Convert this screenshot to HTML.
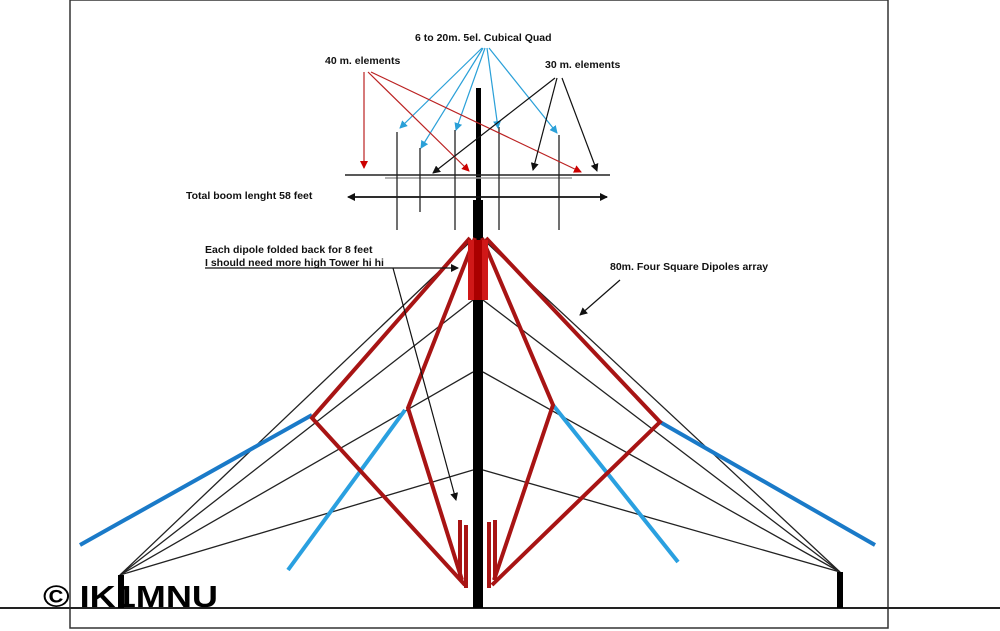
<!DOCTYPE html>
<html><head><style>
body{margin:0;background:#fff;}
svg{display:block;font-family:"Liberation Sans",sans-serif;}
</style></head><body>
<svg width="1000" height="631" viewBox="0 0 1000 631">
<defs>
<marker id="ab" markerWidth="8" markerHeight="8" refX="7" refY="4" orient="auto" markerUnits="userSpaceOnUse"><path d="M0,0 L8,4 L0,8 z" fill="#111"/></marker>
<marker id="ar" markerWidth="8" markerHeight="8" refX="7" refY="4" orient="auto" markerUnits="userSpaceOnUse"><path d="M0,0 L8,4 L0,8 z" fill="#c00"/></marker>
<marker id="au" markerWidth="8" markerHeight="8" refX="7" refY="4" orient="auto" markerUnits="userSpaceOnUse"><path d="M0,0 L8,4 L0,8 z" fill="#2aa0d8"/></marker>
</defs>
<rect x="70" y="0" width="818" height="628" fill="none" stroke="#333" stroke-width="1.5"/>
<line x1="0" y1="608" x2="1000" y2="608" stroke="#222" stroke-width="2"/>
<rect x="476" y="88" width="5" height="115" fill="#000"/>
<rect x="473" y="200" width="10" height="408" fill="#000"/>
<line x1="345" y1="175" x2="610" y2="175" stroke="#222" stroke-width="1.5"/>
<line x1="385" y1="178" x2="572" y2="178" stroke="#999" stroke-width="1.5"/>
<line x1="350" y1="197" x2="607" y2="197" stroke="#111" stroke-width="1.5" marker-end="url(#ab)"/>
<line x1="607" y1="197" x2="348" y2="197" stroke="#111" stroke-width="1.5" marker-end="url(#ab)"/>
<g stroke="#222" stroke-width="1.3">
<line x1="397" y1="132" x2="397" y2="230"/><line x1="420" y1="148" x2="420" y2="212"/>
<line x1="455" y1="130" x2="455" y2="230"/><line x1="499" y1="127" x2="499" y2="230"/>
<line x1="559" y1="135" x2="559" y2="230"/>
</g>
<g stroke="#2aa0d8" stroke-width="1.2" marker-end="url(#au)">
<line x1="482" y1="48" x2="400" y2="128"/><line x1="483" y1="48" x2="421" y2="148"/>
<line x1="485" y1="48" x2="456" y2="130"/><line x1="487" y1="48" x2="498" y2="128"/>
<line x1="489" y1="48" x2="557" y2="133"/>
</g>
<g stroke="#b22" stroke-width="1.2" marker-end="url(#ar)">
<line x1="364" y1="72" x2="364" y2="168"/><line x1="368" y1="72" x2="469" y2="171"/>
<line x1="371" y1="72" x2="581" y2="172"/>
</g>
<g stroke="#111" stroke-width="1.2" marker-end="url(#ab)">
<line x1="555" y1="78" x2="433" y2="173"/><line x1="557" y1="78" x2="533" y2="170"/>
<line x1="562" y1="78" x2="597" y2="171"/>
</g>
<g stroke="#222" stroke-width="1.3" fill="none">
<line x1="120" y1="575" x2="470" y2="242"/><line x1="120" y1="575" x2="473" y2="300"/>
<line x1="120" y1="575" x2="473" y2="372"/><line x1="120" y1="575" x2="473" y2="470"/>
<line x1="840" y1="572" x2="486" y2="242"/><line x1="840" y1="572" x2="483" y2="300"/>
<line x1="840" y1="572" x2="483" y2="372"/><line x1="840" y1="572" x2="483" y2="470"/>
</g>
<rect x="118" y="575" width="6" height="33" fill="#000"/>
<rect x="837" y="572" width="6" height="36" fill="#000"/>
<g stroke="#1a7ac8" stroke-width="4">
<line x1="80" y1="545" x2="312" y2="415"/><line x1="660" y1="422" x2="875" y2="545"/>
</g>
<g stroke="#2aa0e0" stroke-width="4">
<line x1="288" y1="570" x2="405" y2="410"/><line x1="553" y1="405" x2="678" y2="562"/>
</g>
<g stroke="#a81414" stroke-width="4" fill="none">
<polyline points="470,238 312,418 465,585"/><polyline points="475,238 408,408 462,580"/>
<polyline points="486,238 660,422 492,585"/><polyline points="482,238 553,405 494,580"/>
<line x1="460" y1="520" x2="460" y2="580"/><line x1="466" y1="525" x2="466" y2="588"/>
<line x1="489" y1="522" x2="489" y2="588"/><line x1="495" y1="520" x2="495" y2="580"/>
</g>
<rect x="468" y="240" width="20" height="60" fill="#d01818"/>
<rect x="474" y="240" width="8" height="60" fill="#a00"/>
<line x1="205" y1="268" x2="458" y2="268" stroke="#111" stroke-width="1.2" marker-end="url(#ab)"/>
<line x1="393" y1="268" x2="456" y2="500" stroke="#111" stroke-width="1.2" marker-end="url(#ab)"/>
<line x1="620" y1="280" x2="580" y2="315" stroke="#111" stroke-width="1.2" marker-end="url(#ab)"/>
<g font-size="10.5" font-weight="bold" fill="#111">
<text x="415" y="41">6 to 20m. 5el. Cubical Quad</text>
<text x="325" y="64">40 m. elements</text>
<text x="545" y="68">30 m. elements</text>
<text x="186" y="199">Total boom lenght 58 feet</text>
<text x="205" y="253">Each dipole folded back for 8 feet</text>
<text x="205" y="266">I should need more high Tower hi hi</text>
<text x="610" y="270">80m. Four Square Dipoles array</text>
</g>
<text x="43" y="607" font-size="31" font-weight="bold" fill="#000" textLength="175" lengthAdjust="spacingAndGlyphs">© IK1MNU</text>
</svg>
</body></html>
